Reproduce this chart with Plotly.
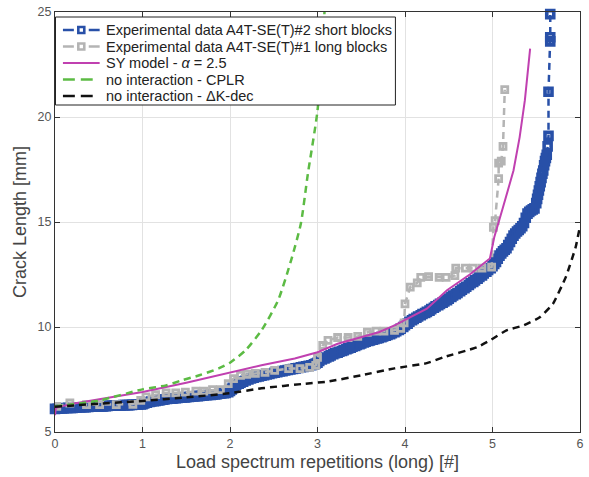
import plotly.graph_objects as go

# Experimental data A4T-SE(T)#2, short blocks
short_x = [0.00, 0.03, 0.05, 0.08, 0.10, 0.13, 0.15, 0.18, 0.20, 0.23, 0.25, 0.28, 0.30, 0.33, 0.35,
           0.38, 0.40, 0.43, 0.45, 0.48, 0.50, 0.53, 0.55, 0.58, 0.60, 0.63, 0.65, 0.68, 0.70, 0.73,
           0.75, 0.78, 0.80, 0.83, 0.85, 0.88, 0.90, 0.93, 0.95, 0.98, 1.00, 1.02, 1.05, 1.08, 1.10,
           1.13, 1.15, 1.18, 1.20, 1.23, 1.25, 1.28, 1.30, 1.33, 1.35, 1.38, 1.40, 1.43, 1.45, 1.48,
           1.50, 1.53, 1.55, 1.58, 1.60, 1.63, 1.65, 1.68, 1.70, 1.73, 1.75, 1.78, 1.80, 1.83, 1.85,
           1.88, 1.90, 1.93, 1.95, 1.98, 2.00, 2.02, 2.03, 2.05, 2.07, 2.10, 2.12, 2.15, 2.18, 2.21,
           2.24, 2.27, 2.30, 2.33, 2.36, 2.39, 2.42, 2.45, 2.48, 2.51, 2.54, 2.57, 2.60, 2.63, 2.66,
           2.69, 2.72, 2.75, 2.78, 2.81, 2.84, 2.87, 2.90, 2.93, 2.96, 2.98, 3.00, 3.02, 3.05, 3.08,
           3.10, 3.13, 3.15, 3.18, 3.20, 3.23, 3.25, 3.28, 3.30, 3.33, 3.35, 3.38, 3.40, 3.43, 3.45,
           3.48, 3.50, 3.53, 3.55, 3.58, 3.60, 3.63, 3.65, 3.68, 3.70, 3.73, 3.75, 3.78, 3.80, 3.83,
           3.85, 3.88, 3.90, 3.93, 3.95, 3.98, 4.00, 4.03, 4.05, 4.08, 4.10, 4.13, 4.15, 4.18, 4.20,
           4.23, 4.25, 4.28, 4.30, 4.33, 4.35, 4.38, 4.40, 4.43, 4.45, 4.48, 4.50, 4.53, 4.55, 4.58,
           4.60, 4.63, 4.65, 4.68, 4.70, 4.73, 4.75, 4.78, 4.80, 4.83, 4.85, 4.88, 4.90, 4.93, 4.95,
           4.98, 5.00, 5.02, 5.04, 5.06, 5.08, 5.10, 5.12, 5.14, 5.16, 5.18, 5.20, 5.22, 5.24, 5.26,
           5.28, 5.30, 5.32, 5.34, 5.36, 5.38, 5.40, 5.42, 5.44, 5.46, 5.48, 5.50, 5.51, 5.52, 5.53,
           5.54, 5.55, 5.56, 5.57, 5.58, 5.59, 5.60, 5.61, 5.62, 5.63, 5.64, 5.64, 5.66, 5.66, 5.66]
short_y = [6.10, 6.11, 6.12, 6.12, 6.13, 6.14, 6.15, 6.15, 6.15, 6.16, 6.17, 6.18, 6.18, 6.18, 6.18,
           6.19, 6.20, 6.20, 6.20, 6.21, 6.22, 6.22, 6.22, 6.23, 6.24, 6.25, 6.25, 6.26, 6.26, 6.26,
           6.27, 6.28, 6.28, 6.28, 6.28, 6.29, 6.30, 6.30, 6.30, 6.31, 6.32, 6.36, 6.40, 6.43, 6.45,
           6.47, 6.48, 6.50, 6.52, 6.54, 6.55, 6.57, 6.58, 6.59, 6.60, 6.61, 6.62, 6.63, 6.64, 6.65,
           6.66, 6.67, 6.68, 6.69, 6.70, 6.71, 6.72, 6.73, 6.74, 6.75, 6.76, 6.77, 6.78, 6.79, 6.80,
           6.82, 6.83, 6.85, 6.86, 6.90, 6.95, 7.03, 7.10, 7.18, 7.25, 7.30, 7.35, 7.40, 7.45, 7.50,
           7.55, 7.58, 7.62, 7.65, 7.68, 7.71, 7.74, 7.77, 7.80, 7.82, 7.85, 7.88, 7.90, 7.93, 7.95,
           7.98, 8.00, 8.03, 8.05, 8.08, 8.10, 8.13, 8.15, 8.18, 8.22, 8.26, 8.30, 8.38, 8.45, 8.50,
           8.55, 8.60, 8.65, 8.70, 8.75, 8.78, 8.82, 8.86, 8.90, 8.94, 8.98, 9.02, 9.06, 9.10, 9.14,
           9.18, 9.22, 9.26, 9.30, 9.33, 9.36, 9.39, 9.42, 9.45, 9.48, 9.52, 9.55, 9.58, 9.62, 9.66,
           9.70, 9.75, 9.80, 9.86, 9.92, 10.00, 10.08, 10.16, 10.25, 10.32, 10.38, 10.44, 10.50, 10.56, 10.62,
           10.67, 10.72, 10.78, 10.85, 10.92, 10.98, 11.04, 11.10, 11.16, 11.22, 11.28, 11.35, 11.43, 11.50, 11.56,
           11.62, 11.70, 11.78, 11.85, 11.92, 12.00, 12.08, 12.15, 12.22, 12.30, 12.38, 12.46, 12.55, 12.63, 12.72,
           12.80, 12.90, 13.00, 13.10, 13.25, 13.40, 13.50, 13.60, 13.68, 13.75, 13.90, 14.05, 14.20, 14.35, 14.45,
           14.55, 14.62, 14.70, 14.80, 14.95, 15.20, 15.40, 15.48, 15.55, 15.60, 15.65, 15.90, 16.10, 16.30, 16.50,
           16.70, 16.90, 17.10, 17.30, 17.45, 17.70, 17.90, 18.05, 18.20, 18.60, 19.10, 21.20, 23.60, 23.80, 24.90]

# Experimental data A4T-SE(T)#1, long blocks
long_x = [0.02, 0.17, 0.36, 0.51, 0.70, 0.89, 0.98, 1.04, 1.15, 1.27, 1.38, 1.49, 1.61, 1.70, 1.80,
          1.89, 1.98, 2.04, 2.12, 2.19, 2.29, 2.40, 2.51, 2.67, 2.80, 2.91, 2.98, 3.00, 3.06, 3.12,
          3.23, 3.35, 3.46, 3.57, 3.67, 3.76, 3.88, 3.95, 3.99, 4.00, 4.06, 4.14, 4.18, 4.27, 4.39,
          4.47, 4.57, 4.58, 4.69, 4.78, 4.88, 4.99, 5.01, 5.03, 5.07, 5.07, 5.10, 5.12, 5.14]
long_y = [6.22, 6.38, 6.30, 6.30, 6.30, 6.32, 6.51, 6.67, 6.78, 6.86, 6.86, 6.90, 6.95, 6.95, 7.02,
          7.02, 7.30, 7.54, 7.70, 7.75, 7.79, 7.84, 7.93, 8.02, 8.02, 8.08, 8.17, 8.55, 9.12, 9.36,
          9.50, 9.50, 9.55, 9.75, 9.80, 9.80, 9.84, 9.93, 10.20, 11.10, 11.90, 12.10, 12.36, 12.40, 12.36,
          12.36, 12.45, 12.80, 12.80, 12.80, 12.80, 12.85, 14.75, 15.07, 17.07, 17.80, 17.90, 18.60, 21.30]

# SY model, alpha = 2.5
sy_x = [0.00, 0.01, 0.20, 0.50, 1.00, 1.50, 2.00, 2.36, 2.74, 3.00, 3.23, 3.57, 3.70, 3.88, 4.25,
        4.48, 4.74, 4.97, 5.02, 5.12, 5.24, 5.31, 5.37, 5.43]
sy_y = [5.80, 6.15, 6.35, 6.55, 6.90, 7.35, 7.85, 8.18, 8.50, 8.80, 9.20, 9.60, 9.75, 10.08, 10.87,
        11.75, 12.50, 13.26, 14.27, 15.70, 17.45, 19.03, 20.80, 23.26]

# No interaction - CPLR
cplr_x = [0.00, 0.50, 1.00, 1.27, 1.45, 1.65, 1.87, 2.00, 2.18, 2.36, 2.55, 2.70, 2.81, 2.89, 3.00, 3.08]
cplr_y = [6.22, 6.50, 7.03, 7.22, 7.46, 7.70, 8.03, 8.30, 8.90, 9.84, 11.27, 13.20, 14.93, 17.30, 20.30, 25.00]

# No interaction - Delta K-dec
dk_x = [0.00, 0.50, 1.00, 1.50, 1.99, 2.36, 2.86, 3.12, 3.50, 3.88, 4.25, 4.44, 4.82, 4.97, 5.16,
        5.35, 5.54, 5.69, 5.84, 5.95, 6.00]
dk_y = [6.20, 6.35, 6.48, 6.65, 6.84, 7.08, 7.30, 7.40, 7.70, 8.03, 8.28, 8.56, 9.03, 9.36, 9.84,
        10.07, 10.46, 11.10, 12.40, 13.80, 14.80]

x_ticks = [0, 1, 2, 3, 4, 5, 6]
y_ticks = [5, 10, 15, 20, 25]

series_names = [
    "Experimental data A4T-SE(T)#2 short blocks",
    "Experimental data A4T-SE(T)#1 long blocks",
    "SY model - <i>α</i> = 2.5",
    "no interaction - CPLR",
    "no interaction - ΔK-dec",
]

BLUE = "#2850a8"
GRAY = "#b4b4b4"
MAGENTA = "#c040b0"
GREEN = "#5cbb44"
BLACK = "#111111"
FONT = "Liberation Sans, Arial, sans-serif"
DASH = "7px,5px"

W, H = 589, 477
ML, MR, MT, MB = 55, 5, 12, 45

fig = go.Figure()

fig.add_trace(go.Scatter(
    x=short_x, y=short_y, mode="lines+markers", name=series_names[0],
    line=dict(color=BLUE, width=2.5, dash=DASH),
    marker=dict(symbol="square-open", size=7, color=BLUE, line=dict(width=3.6, color=BLUE)),
    cliponaxis=False,
))
fig.add_trace(go.Scatter(
    x=long_x, y=long_y, mode="lines+markers", name=series_names[1],
    line=dict(color=GRAY, width=2.5, dash=DASH),
    marker=dict(symbol="square-open", size=6, color=GRAY, line=dict(width=2.8, color=GRAY)),
))
fig.add_trace(go.Scatter(
    x=sy_x, y=sy_y, mode="lines", name=series_names[2],
    line=dict(color=MAGENTA, width=2),
))
fig.add_trace(go.Scatter(
    x=cplr_x, y=cplr_y, mode="lines", name=series_names[3],
    line=dict(color=GREEN, width=2.5, dash=DASH, shape="spline", smoothing=0.6),
))
fig.add_trace(go.Scatter(
    x=dk_x, y=dk_y, mode="lines", name=series_names[4],
    line=dict(color=BLACK, width=2.5, dash=DASH, shape="spline", smoothing=0.4),
))

# Compact legend drawn in paper space (pixel helpers relative to the plot area)
pw, ph = W - ML - MR, H - MT - MB


def px(v):
    return (v - ML) / pw


def py(v):
    return (H - MB - v) / ph


shapes = [dict(type="rect", xref="paper", yref="paper", layer="above",
               x0=px(55.5), x1=px(398), y0=py(105), y1=py(17),
               fillcolor="white", line=dict(color="#222222", width=1))]
annotations = []
row_y = [30, 46.5, 63, 79.5, 96]
styles = [(BLUE, True, "dash"), (GRAY, True, "dash"), (MAGENTA, False, "solid"),
          (GREEN, False, "dash"), (BLACK, False, "dash")]
for (color, has_marker, kind), yy, label in zip(styles, row_y, series_names):
    if has_marker:
        for a, b in [(63, 74), (89, 100)]:
            shapes.append(dict(type="line", xref="paper", yref="paper", layer="above",
                               x0=px(a), x1=px(b), y0=py(yy), y1=py(yy),
                               line=dict(color=color, width=2.5)))
        shapes.append(dict(type="rect", xref="paper", yref="paper", layer="above",
                           x0=px(78.5), x1=px(84.5), y0=py(yy + 3), y1=py(yy - 3),
                           fillcolor="white", line=dict(color=color, width=2.6)))
    elif kind == "solid":
        shapes.append(dict(type="line", xref="paper", yref="paper", layer="above",
                           x0=px(63), x1=px(100), y0=py(yy), y1=py(yy),
                           line=dict(color=color, width=2)))
    else:
        for a, b in [(63, 75), (81, 93)]:
            shapes.append(dict(type="line", xref="paper", yref="paper", layer="above",
                               x0=px(a), x1=px(b), y0=py(yy), y1=py(yy),
                               line=dict(color=color, width=2.5)))
    annotations.append(dict(xref="paper", yref="paper", x=px(104), y=py(yy),
                            xanchor="left", yanchor="middle", showarrow=False,
                            text=label, font=dict(family=FONT, size=14.5, color="#222222")))

axis_common = dict(
    showline=True, linecolor="#333333", linewidth=1, mirror="ticks",
    ticks="inside", ticklen=5, tickcolor="#333333",
    showgrid=True, gridcolor="#e2e2e2", gridwidth=1,
    zeroline=False,
    tickfont=dict(family=FONT, size=12.5, color="#555555"),
)

fig.update_layout(
    width=W, height=H,
    margin=dict(l=ML, r=MR, t=MT, b=MB),
    paper_bgcolor="white", plot_bgcolor="white",
    font=dict(family=FONT, color="#222222"),
    xaxis=dict(
        range=[0, 6], tickvals=x_ticks, ticktext=[str(v) for v in x_ticks],
        title=dict(text="Load spectrum repetitions (long) [#]",
                   font=dict(size=18, color="#444444"), standoff=5),
        **axis_common,
    ),
    yaxis=dict(
        range=[5, 25], tickvals=y_ticks, ticktext=[str(v) for v in y_ticks],
        title=dict(text="Crack Length [mm]", font=dict(size=18, color="#444444"), standoff=6),
        **axis_common,
    ),
    shapes=shapes,
    annotations=annotations,
    showlegend=False,
)

fig.write_html("out.html")
